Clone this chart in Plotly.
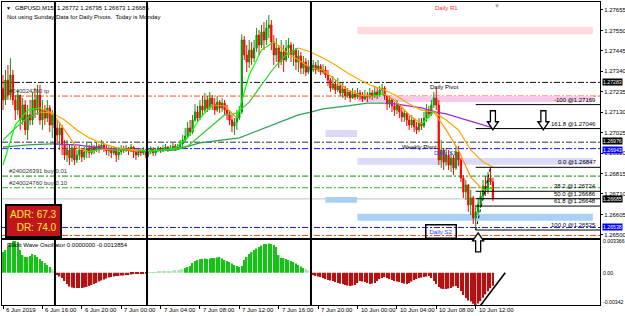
import plotly.graph_objects as go

W, H = 625, 316
ML, MR, MT, MB = 2, 25, 2, 11
PW, PH = W - ML - MR, H - MT - MB
FONT = "Liberation Sans, Arial, sans-serif"

# ---------------- data (prices in 1e-5 units) ----------------
first_open = 127250
close_pts = [
    127193, 127295, 127218, 127321, 127193, 127141, 127218, 127090, 127167, 127039,
    127116, 127090, 127193, 127141, 127218, 127090, 127141, 127100, 127152, 127064,
    127116, 127049, 127013, 127049, 126962, 126910, 126936, 126895, 126946, 126885,
    126910, 126936, 126900, 126926, 126946, 126921, 126951, 126936, 126956, 126946,
    126962, 126946, 126931, 126941, 126921, 126936, 126910, 126926, 126941, 126936,
    126946, 126931, 126951, 126926, 126910, 126931, 126921, 126936, 126910, 126926,
    126941, 126921, 126936, 126946, 126931, 126941, 126951, 126936, 126946, 126956,
    126941, 126951, 126967, 126987, 127008, 127049, 127028, 127090, 127131, 127100,
    127162, 127141, 127193, 127152, 127203, 127172, 127141, 127182, 127152, 127177,
    127141, 127116, 127090, 127059, 127080, 127100, 127131, 127501, 127424, 127388,
    127449, 127408, 127460, 127526, 127475, 127542, 127501, 127562, 127578, 127490,
    127424, 127460, 127388, 127439, 127398, 127460, 127475, 127424, 127449, 127388,
    127419, 127357, 127388, 127336, 127367, 127347, 127372, 127347, 127367, 127336,
    127347, 127321, 127295, 127254, 127275, 127244, 127265, 127229, 127249, 127213,
    127234, 127203, 127223, 127208, 127229, 127213, 127198, 127218, 127208, 127229,
    127213, 127234, 127218, 127244, 127254, 127213, 127172, 127193, 127162, 127141,
    127167, 127131, 127105, 127126, 127090, 127064, 127090, 127054, 127039, 127075,
    127059, 127100, 127141, 127121, 127167, 127203, 127167, 126885, 126936, 126874,
    126910, 126859, 126895, 126844, 126926, 126885, 126792, 126720, 126756, 126654,
    126690, 126587, 126618, 126659, 126700, 126751, 126731, 126792, 126772, 126685,
]
high_pts = [
    127321, 127347, 127372, 127408, 127347, 127218, 127244, 127218, 127203, 127193,
    127167, 127193, 127234, 127254, 127270, 127270, 127193, 127167, 127193, 127167,
    127141, 127131, 127090, 127080, 127064, 126987, 126987, 126962, 126962, 126962,
    126936, 126962, 126946, 126951, 126972, 126962, 126972, 126962, 126977, 126967,
    126987, 126972, 126962, 126956, 126951, 126956, 126946, 126936, 126962, 126956,
    126962, 126951, 126967, 126956, 126936, 126941, 126946, 126951, 126941, 126941,
    126956, 126951, 126946, 126956, 126951, 126962, 126967, 126956, 126962, 126972,
    126967, 126967, 126987, 127013, 127049, 127080, 127090, 127116, 127172, 127162,
    127193, 127213, 127229, 127213, 127234, 127218, 127203, 127213, 127193, 127203,
    127193, 127167, 127141, 127116, 127100, 127141, 127162, 127531, 127521, 127475,
    127501, 127490, 127501, 127562, 127552, 127578, 127593, 127603, 127629, 127603,
    127526, 127511, 127475, 127501, 127475, 127501, 127511, 127490, 127480, 127460,
    127449, 127439, 127419, 127408, 127398, 127398, 127398, 127388, 127398, 127377,
    127377, 127367, 127347, 127306, 127316, 127295, 127306, 127275, 127285, 127265,
    127254, 127244, 127254, 127244, 127254, 127244, 127234, 127244, 127234, 127254,
    127244, 127265, 127254, 127265, 127275, 127265, 127218, 127213, 127203, 127182,
    127193, 127172, 127152, 127141, 127131, 127111, 127116, 127100, 127080, 127100,
    127100, 127131, 127172, 127162, 127193, 127234, 127254, 127193, 126987, 126946,
    126946, 126936, 126926, 126910, 126956, 126956, 126895, 126807, 126782, 126761,
    126731, 126700, 126654, 126690, 126720, 126782, 126802, 126823, 126847, 126795,
]
low_pts = [
    127141, 127167, 127193, 127193, 127167, 127090, 127116, 127039, 127064, 127013,
    126987, 127064, 127064, 127100, 127116, 127064, 127039, 127064, 127080, 127028,
    126998, 127013, 126962, 126936, 126910, 126885, 126874, 126859, 126874, 126859,
    126869, 126885, 126874, 126885, 126895, 126895, 126910, 126915, 126926, 126921,
    126936, 126926, 126910, 126905, 126895, 126910, 126874, 126885, 126910, 126921,
    126926, 126910, 126926, 126895, 126885, 126900, 126905, 126910, 126895, 126900,
    126915, 126905, 126905, 126926, 126921, 126926, 126931, 126926, 126931, 126936,
    126931, 126936, 126941, 126951, 126977, 126998, 127008, 127018, 127080, 127080,
    127090, 127116, 127131, 127131, 127141, 127141, 127116, 127131, 127126, 127131,
    127116, 127090, 127064, 127028, 127013, 127039, 127090, 127121, 127398, 127336,
    127357, 127372, 127388, 127439, 127424, 127460, 127449, 127475, 127511, 127449,
    127372, 127388, 127357, 127372, 127336, 127388, 127408, 127388, 127367, 127347,
    127336, 127326, 127326, 127316, 127326, 127321, 127336, 127326, 127336, 127321,
    127326, 127306, 127265, 127234, 127244, 127223, 127234, 127213, 127203, 127193,
    127203, 127182, 127198, 127193, 127198, 127193, 127182, 127193, 127182, 127198,
    127193, 127203, 127198, 127208, 127223, 127193, 127141, 127152, 127131, 127111,
    127121, 127100, 127080, 127080, 127059, 127039, 127049, 127028, 127018, 127028,
    127039, 127049, 127080, 127100, 127111, 127152, 127141, 126859, 126844, 126833,
    126854, 126833, 126823, 126807, 126833, 126854, 126772, 126690, 126680, 126618,
    126602, 126556, 126525, 126602, 126638, 126680, 126700, 126710, 126756, 126673,
]
# Elliott Wave Oscillator (1e-6 units)
osc_e6 = [
    2194, 2406, 2724, 3148, 3366, 3366, 3254, 2406, 1876, 1664,
    1664, 1770, 1982, 1876, 1664, 1452, 1240, 1028, 816, 604,
    392, 180, -244, -403, -562, -880, -1198, -1463, -1569, -1622,
    -1622, -1622, -1622, -1569, -1516, -1410, -1304, -1198, -1092, -933,
    -827, -721, -615, -509, -456, -403, -350, -350, -297, -297,
    -244, -244, -191, -138, -138, -85, -85, -32, -32, 40,
    74, 74, 74, 127, 127, 127, 180, 180, 180, 233,
    286, 286, 339, 392, 498, 604, 710, 1028, 1240, 1346,
    1452, 1452, 1505, 1452, 1505, 1558, 1558, 1611, 1664, 1505,
    1346, 1240, 1134, 975, 816, 710, 604, 710, 1346, 1664,
    1982, 2194, 2406, 2565, 2724, 2883, 3042, 3042, 3095, 3042,
    2936, 2724, 1876, 1558, 1558, 1452, 1346, 1240, 1134, 975,
    816, 657, 498, 392, 233, -85, -244, -350, -403, -456,
    -562, -668, -774, -827, -880, -986, -1092, -1145, -1198, -1304,
    -1357, -1410, -1357, -1304, -1092, -880, -933, -986, -1092, -1198,
    -1145, -1092, -880, -668, -562, -456, -562, -668, -774, -880,
    -933, -986, -1092, -1145, -1198, -1092, -933, -774, -668, -562,
    -509, -456, -403, -350, -562, -880, -1198, -1516, -1675, -1728,
    -1728, -1675, -1622, -1463, -1410, -1622, -1940, -2364, -2682, -2947,
    -3050, -3300, -3420, -3250, -3000, -2650, -2300, -1950, -1650, -1385,
]
# moving averages, read at sampled bars
ma_bars = [0, 5, 10, 15, 20, 25, 30, 35, 40, 45, 50, 55, 60, 65, 70, 75, 80, 85, 90, 95,
           100, 105, 110, 115, 120, 125, 130, 135, 140, 145, 150, 155, 160, 165, 170, 175,
           180, 185, 190, 195, 199]
ma_fast_pts = [126859, 127064, 127141, 127152, 127126, 127039, 126946, 126926, 126941, 126936,
               126936, 126931, 126931, 126936, 126946, 126998, 127100, 127167, 127162, 127100,
               127321, 127449, 127490, 127439, 127398, 127357, 127347, 127295, 127244, 127218,
               127213, 127223, 127182, 127116, 127069, 127131, 127039, 126936, 126797, 126731,
               126741]
ma_mid_pts = [126987, 127049, 127100, 127131, 127126, 127090, 127039, 126998, 126972, 126951,
              126941, 126936, 126931, 126936, 126941, 126956, 127008, 127064, 127116, 127126,
              127182, 127270, 127357, 127424, 127460, 127439, 127408, 127372, 127331, 127295,
              127265, 127244, 127213, 127172, 127141, 127131, 127090, 127039, 126936, 126874,
              126849]
ma_slow_bars = [0, 10, 20, 30, 40, 50, 60, 70, 80, 90, 96, 100, 110, 120, 125, 130, 140, 148,
                155, 160, 170, 176, 180, 188, 195, 199]
ma_slow_pts = [126951, 126962, 126967, 126962, 126946, 126936, 126931, 126936, 126972, 126987,
               126998, 127018, 127069, 127116, 127131, 127147, 127162, 127177, 127177, 127172,
               127152, 127131, 127121, 127090, 127064, 127049]

time_label_bars = [0, 16, 32, 48, 64, 80, 96, 112, 128, 144, 160, 176, 192]
time_labels = ["6 Jun 2019", "6 Jun 16:00", "6 Jun 20:00", "7 Jun 00:00", "7 Jun 04:00",
               "7 Jun 08:00", "7 Jun 12:00", "7 Jun 16:00", "7 Jun 20:00", "10 Jun 00:00",
               "10 Jun 04:00", "10 Jun 08:00", "10 Jun 12:00"]
price_ticks = [1.27655, 1.27550, 1.27445, 1.27340, 1.27235, 1.27130, 1.27025, 1.26920,
               1.26815, 1.26710, 1.26605, 1.26500]

# horizontal objects
level_prices = [1.27283, 1.27213, 1.26976, 1.26943, 1.26802, 1.26742, 1.26538, 1.26497]
level_colors = ["#111111", "#ff4d1a", "#333333", "#1a1aff", "#008c00", "#33aa33", "#1a1aff", "#ff4d1a"]
axis_boxes = [(1.27283, "#000000", 0), (1.26976, "#000000", 1), (1.26943, "#0000ff", -1),
              (1.26685, "#000000", 0), (1.26538, "#0000ff", 0)]
band_start = [144, 144, 131, 144, 131, 144]
band_end = [239.6, 239.6, 143.8, 239.6, 143.8, 239.6]
band_lo = [1.27531, 1.27182, 1.27003, 1.26860, 1.26665, 1.26572]
band_hi = [1.27567, 1.27213, 1.27039, 1.26895, 1.26695, 1.26608]
band_colors = ["#ffd9dc", "#f7cbe8", "#d9d9f7", "#dadaf9", "#a9cff5", "#a9d1f7"]

fib_start_bar = 192
fib_high_bar = 198
fib_prices = [1.26847, 1.26724, 1.26686, 1.26648, 1.26525, 1.27046, 1.27169]
fib_texts = ["0.0 @1.26847", "38.2 @1.26724", "50.0 @1.26686", "61.8 @1.26648",
             "100.0 @1.26525", "161.8 @1.27046", "-100 @1.27169"]

vline_bars = [21.1, 58.5, 125.1]
arrow_bars = [199, 219.5, 193]
arrow_prices = [1.27040, 1.27040, 1.26510]
arrow_dirs = ["down", "down", "up"]

order_labels = [("#240024760 tp", 1.27213), ("#240026391 buy 0.01", 1.26802),
                ("#240024760 buy 0.10", 1.26742), ("#240024760 sl", 1.26497)]
zone_labels = [("Daily R1", 174.5, 1.27665, "#ff2d2d"), ("Daily Pivot", 172.6, 1.27260, "#000000"),
               ("Weekly Pivot", 161.3, 1.26952, "#000000"), ("Daily S1", 174.2, 1.26921, "#1f3fff")]

# ---------------- derived ----------------
bars = list(range(len(close_pts)))
closes = [v / 1e5 for v in close_pts]
highs = [v / 1e5 for v in high_pts]
lows = [v / 1e5 for v in low_pts]
opens = [first_open / 1e5] + closes[:-1]
osc = [v / 1e6 for v in osc_e6]

XR = [-0.41, 242.5]
YR = [1.26484, 1.27696]
OR = [-0.00342, 0.00347]
dom_main = [(H - MB - 238) / PH, 1.0]
dom_osc = [0.0, (H - MB - 240) / PH]


def paper_x(b):
    return (b - XR[0]) / (XR[1] - XR[0])


def paper_y(p):
    return dom_main[0] + (p - YR[0]) / (YR[1] - YR[0]) * (dom_main[1] - dom_main[0])


def py2paper(py):
    return (H - MB - py) / PH


fig = go.Figure()

fig.add_trace(go.Candlestick(
    x=bars, open=opens, high=highs, low=lows, close=closes,
    increasing=dict(line=dict(color="#0a960a", width=1), fillcolor="#0a960a"),
    decreasing=dict(line=dict(color="#ff0000", width=1), fillcolor="#ff0000"),
    whiskerwidth=0, hoverinfo="skip", xaxis="x", yaxis="y"))


def add_slope_line(bx, pts, up_color, down_color, width):
    vals = [v / 1e5 for v in pts]
    cols = [up_color if vals[i + 1] >= vals[i] else down_color for i in range(len(vals) - 1)]
    start = 0
    for i in range(1, len(cols) + 1):
        if i == len(cols) or cols[i] != cols[start]:
            fig.add_trace(go.Scatter(x=bx[start:i + 1], y=vals[start:i + 1], mode="lines",
                                     line=dict(color=cols[start], width=width),
                                     hoverinfo="skip", xaxis="x", yaxis="y"))
            start = i


add_slope_line(ma_slow_bars, ma_slow_pts, "#2e9e5b", "#9932cc", 1.3)
add_slope_line(ma_bars, ma_mid_pts, "#33cc33", "#ffa500", 1.2)
add_slope_line(ma_bars, ma_fast_pts, "#00ff00", "#ff9900", 1.2)

osc_colors = []
for v in osc:
    if v < 0:
        osc_colors.append("#b31212")
    elif v < 0.00045:
        osc_colors.append("#a8e8a8")
    else:
        osc_colors.append("#19c019")
fig.add_trace(go.Bar(x=bars, y=osc, marker=dict(color=osc_colors, line=dict(width=0)),
                     width=0.6, hoverinfo="skip", xaxis="x2", yaxis="y2"))

shapes = []
for b0, b1, lo, hi, c in zip(band_start, band_end, band_lo, band_hi, band_colors):
    shapes.append(dict(type="rect", xref="x", yref="y", x0=b0, x1=b1, y0=lo, y1=hi,
                       fillcolor=c, line=dict(width=0), layer="below"))
for p, c in zip(level_prices, level_colors):
    shapes.append(dict(type="line", xref="paper", yref="y", x0=0, x1=1, y0=p, y1=p,
                       line=dict(color=c, width=1, dash="6px,2px,2px,2px"), layer="below"))
shapes.append(dict(type="line", xref="paper", yref="y", x0=0, x1=1, y0=closes[-1], y1=closes[-1],
                   line=dict(color="#c0c0c0", width=1), layer="below"))
for p in fib_prices:
    shapes.append(dict(type="line", xref="x", yref="y", x0=fib_start_bar, x1=XR[1], y0=p, y1=p,
                       line=dict(color="#000000", width=1)))
shapes.append(dict(type="line", xref="x", yref="y", x0=fib_start_bar, x1=fib_high_bar,
                   y0=fib_prices[4], y1=fib_prices[0], line=dict(color="#000000", width=1, dash="dot")))
for b in vline_bars:
    shapes.append(dict(type="line", xref="x", yref="paper", x0=b, x1=b, y0=0, y1=1,
                       line=dict(color="#000000", width=2)))
shapes.append(dict(type="line", xref="x2", yref="y2", x0=193, x1=204, y0=-0.0038, y1=0.0,
                   line=dict(color="#000000", width=1.6)))

ARROW = [(0, 0), (5.5, 8), (2.5, 8), (2.5, 19), (-2.5, 19), (-2.5, 8), (-5.5, 8)]
for b, p, d in zip(arrow_bars, arrow_prices, arrow_dirs):
    tx, ty = paper_x(b), paper_y(p)
    sgn = 1 if d == "down" else -1
    pts = [(tx + ax / PW, ty + sgn * ay / PH) for ax, ay in ARROW]
    path = "M " + " L ".join(f"{x:.5f},{y:.5f}" for x, y in pts) + " Z"
    shapes.append(dict(type="path", xref="paper", yref="paper", path=path,
                       fillcolor="#ffffff", line=dict(color="#000000", width=1.3)))

ann = []
f6 = dict(family=FONT, size=6, color="#000000")
ann.append(dict(text="▼", x=(4 - ML) / PW, y=py2paper(8), xref="paper", yref="paper",
                xanchor="left", yanchor="middle", showarrow=False, font=dict(family=FONT, size=5, color="#000")))
ann.append(dict(text="GBPUSD,M15\u00a0\u00a01.26772 1.26795 1.26673 1.26685", x=(13 - ML) / PW, y=py2paper(8),
                xref="paper", yref="paper", xanchor="left", yanchor="middle", showarrow=False, font=f6))
ann.append(dict(text="Not using Sunday Data for Daily Pivots.\u00a0\u00a0Today is Monday", x=(5 - ML) / PW,
                y=py2paper(17), xref="paper", yref="paper", xanchor="left", yanchor="middle",
                showarrow=False, font=f6))
ann.append(dict(text="Elliott Wave Oscillator 0.0000000 -0.0013854", x=(5 - ML) / PW, y=py2paper(245),
                xref="paper", yref="paper", xanchor="left", yanchor="middle", showarrow=False, font=f6))
ann.append(dict(text="▼", x=paper_x(200.5), y=py2paper(6), xref="paper", yref="paper",
                xanchor="center", yanchor="middle", showarrow=False,
                font=dict(family=FONT, size=6, color="#a0a0a0")))

for t, p in order_labels:
    ann.append(dict(text=t, x=(7 - ML) / PW, y=p, xref="paper", yref="y", xanchor="left",
                    yanchor="bottom", showarrow=False, font=dict(family=FONT, size=6, color="#333333")))
for t, b, p, c in zone_labels:
    ann.append(dict(text=t, x=b, y=p, xref="x", yref="y", xanchor="left", yanchor="middle",
                    showarrow=False, font=dict(family=FONT, size=6, color=c)))
ann.append(dict(text="Daily S2", x=178.1, y=1.26515, xref="x", yref="y", xanchor="center",
                yanchor="middle", showarrow=False, font=dict(family=FONT, size=6, color="#1f3fff"),
                bordercolor="#000000", borderwidth=1.5, borderpad=3))
for t, p in zip(fib_texts, fib_prices):
    ann.append(dict(text=t, x=XR[1], y=p, xref="x", yref="y", xanchor="right", xshift=-2,
                    yanchor="bottom", showarrow=False, font=f6))
for p, c, ys in axis_boxes:
    ann.append(dict(text=f"{p:.5f}", x=1.0 + 2 / PW, y=p, xref="paper", yref="y", xanchor="left",
                    yanchor="middle", yshift=ys, showarrow=False, bgcolor=c, borderpad=0,
                    font=dict(family=FONT, size=5.2, color="#ffffff")))
for t, v, ys in [("0.003366", OR[1] - 0.000106, 0), ("0.00", 0.0, 0), ("-0.00342", OR[0], 3)]:
    ann.append(dict(text=t, x=1.0 + 1 / PW, y=v, xref="paper", yref="y2", xanchor="left",
                    yanchor="middle", yshift=ys, showarrow=False,
                    font=dict(family=FONT, size=5.2, color="#000000")))
for b, t in zip(time_label_bars, time_labels):
    ann.append(dict(text=t, x=b, y=py2paper(310), xref="x2", yref="paper", xanchor="left",
                    xshift=1, yanchor="middle", showarrow=False, font=f6))
ann.append(dict(text="ADR: 67.3<br>DR: 74.0", x=(33.5 - ML) / PW, y=py2paper(220.5), xref="paper",
                yref="paper", xanchor="center", yanchor="middle", align="right", showarrow=False,
                font=dict(family=FONT, size=10, color="#ffee33"), bgcolor="#c0161b",
                bordercolor="#000000", borderwidth=2, borderpad=3))

axis_common = dict(showgrid=False, zeroline=False, showline=True, mirror=True,
                   linecolor="#000000", linewidth=1, automargin=False)
fig.update_layout(
    template="none", width=W, height=H,
    margin=dict(l=ML, r=MR, t=MT, b=MB, pad=0),
    paper_bgcolor="#ffffff", plot_bgcolor="#ffffff", showlegend=False,
    font=dict(family=FONT, size=6, color="#000000"),
    xaxis=dict(domain=[0, 1], range=XR, anchor="y", showticklabels=False, ticks="",
               rangeslider=dict(visible=False), **axis_common),
    yaxis=dict(domain=dom_main, range=YR, side="right", anchor="x", tickvals=price_ticks,
               ticktext=[f"{p:.5f}" for p in price_ticks], ticks="outside", ticklen=2,
               tickcolor="#000000", tickfont=dict(family=FONT, size=6, color="#000000"), **axis_common),
    xaxis2=dict(domain=[0, 1], range=XR, anchor="y2", matches="x", tickvals=time_label_bars,
                ticks="outside", ticklen=3, tickcolor="#000000", showticklabels=False, **axis_common),
    yaxis2=dict(domain=dom_osc, range=OR, side="right", anchor="x2", showticklabels=False,
                ticks="", **axis_common),
    shapes=shapes, annotations=ann, bargap=0.3,
)

fig.write_html("out.html")
